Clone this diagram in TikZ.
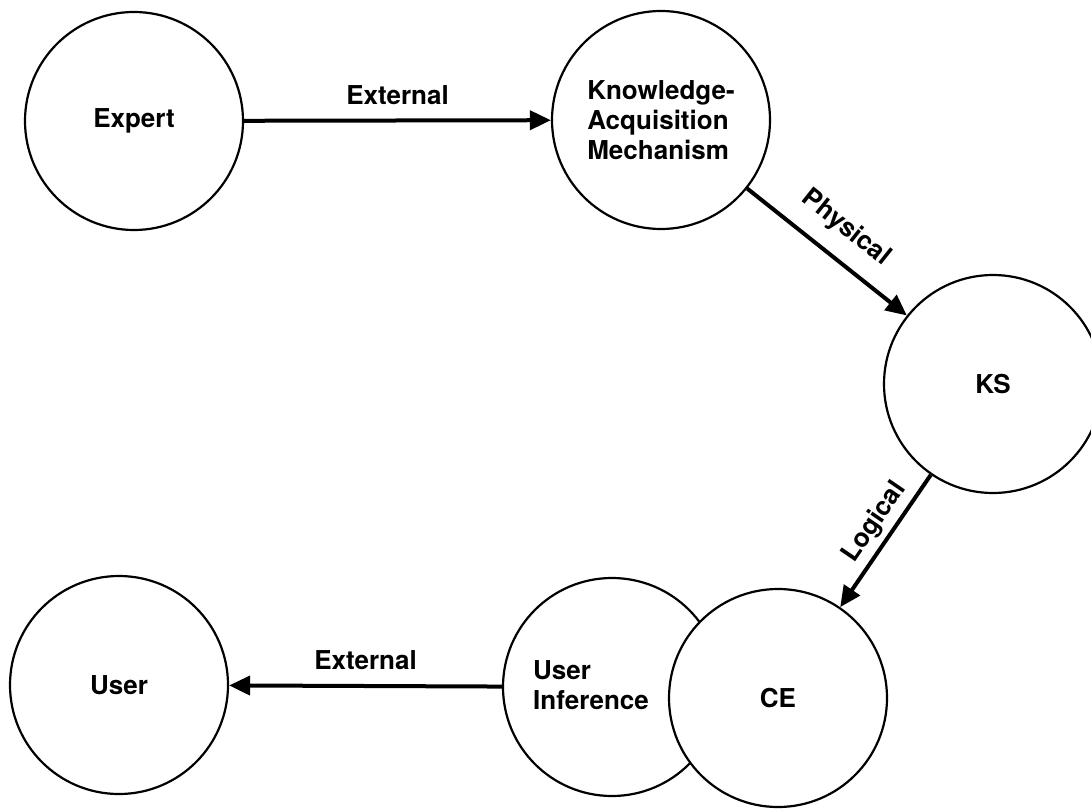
\documentclass[tikz,border=0pt]{standalone}
\usepackage{fontspec}
\setmainfont{TeX Gyre Heros}
\usetikzlibrary{arrows.meta}
\begin{document}
\begin{tikzpicture}[x=1pt,y=-1pt,
  proc/.style={circle, draw, line width=2.2pt, minimum size=218pt, inner sep=0pt, font=\fontsize{26}{30}\selectfont\bfseries},
  flow/.style={line width=4pt, -{Triangle[length=21pt,width=19pt]}},
  lab/.style={font=\fontsize{26}{30}\selectfont\bfseries, inner sep=0pt}]
\useasboundingbox (0,0) rectangle (1091,810);
\node[proc] (expert) at (134,121) {Expert};
\node[proc, align=left] (kam) at (661,120) {Knowledge-\\Acquisition\\Mechanism};
\node[proc] (ks) at (993,384) {KS};
\node[proc] (ui) at (612,687) {};
\node[lab, align=left] (uitxt) at (591,685) {User\\Inference};
\node[proc, fill=white] (ce) at (778,698) {CE};
\node[proc] (user) at (119,685) {User};
\draw[flow] (expert) -- node[lab, above=14pt]{External} (kam);
\draw[flow] (kam) -- node[lab, sloped, above=16pt]{Physical} (ks);
\draw[flow] (ks) -- node[lab, sloped, above=5pt, pos=0.44]{Logical} (ce);
\draw[flow] (ui) -- node[lab, above=14pt]{External} (user);
\end{tikzpicture}
\end{document}
